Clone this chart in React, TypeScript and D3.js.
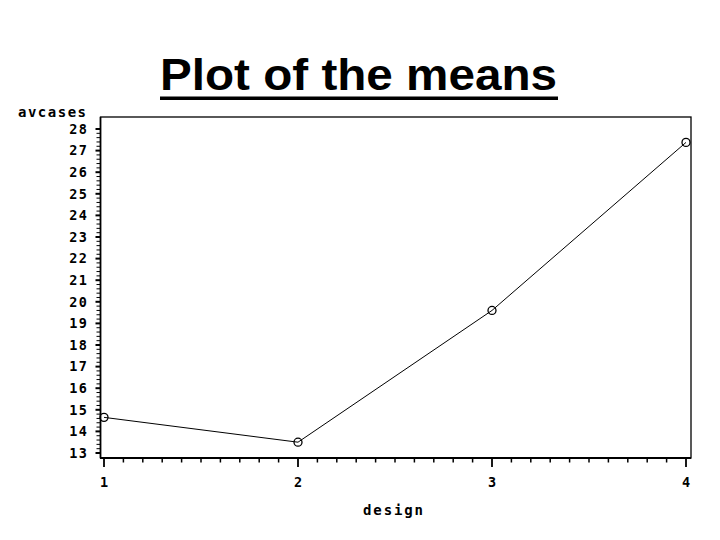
import React from "react";
import * as d3 from "d3";

// design levels and mean of avcases
const designs = [1, 2, 3, 4];
const avcases = [14.65, 13.5, 19.6, 27.38];
const yTickLabels = [13, 14, 15, 16, 17, 18, 19, 20, 21, 22, 23, 24, 25, 26, 27, 28];
const xTickLabels = [1, 2, 3, 4];

const W = 720;
const H = 540;
// frame of the plot
const frame = { left: 100.5, right: 691, top: 117, bottom: 458 };

const monoFont = "'DejaVu Sans Mono', monospace";

const App = () => {
  const x = d3.scaleLinear().domain([1, 4]).range([104, 686]);
  const y = d3.scaleLinear().domain([13, 28]).range([453, 129]);

  const line = d3
    .line<number>()
    .x((_, i) => x(designs[i]))
    .y((d) => y(d));

  // minor ticks: 0.1 on x, 0.2 on y
  const xMinor = d3.range(10, 41).map((v) => v / 10);
  const yMinor = d3.range(65, 141).map((v) => v / 5);

  return (
    <svg
      width={W}
      height={H}
      style={{ position: "absolute", left: 0, top: 0, background: "#fff" }}
    >
      <rect x={0} y={0} width={W} height={H} fill="#fff" />

      {/* title */}
      <text
        x={160}
        y={90}
        fontFamily="'Liberation Sans', Arial, sans-serif"
        fontWeight="bold"
        fontSize={44.5}
        textLength={397}
        lengthAdjust="spacingAndGlyphs"
        fill="#000"
      >
        Plot of the means
      </text>
      <rect x={160} y={96.5} width={398} height={3.5} fill="#000" />

      {/* frame */}
      <rect
        x={frame.left}
        y={frame.top}
        width={frame.right - frame.left}
        height={frame.bottom - frame.top}
        fill="none"
        stroke="#000"
        strokeWidth={1.3}
      />
      <line x1={frame.left - 0.5} x2={frame.right} y1={frame.bottom} y2={frame.bottom} stroke="#000" strokeWidth={2} />
      <line x1={frame.left} x2={frame.left} y1={frame.top} y2={frame.bottom} stroke="#000" strokeWidth={1.6} />

      {/* y ticks */}
      {yMinor.map((v) => {
        const major = Math.abs(v - Math.round(v)) < 1e-6;
        return (
          <line
            key={"ym" + v}
            x1={frame.left - (major ? 5 : 4)}
            x2={frame.left}
            y1={y(v)}
            y2={y(v)}
            stroke="#000"
            strokeWidth={major ? 2 : 1}
          />
        );
      })}
      {yTickLabels.map((v) => (
        <text
          key={"yl" + v}
          x={88.5}
          y={y(v)}
          dy="0.36em"
          textAnchor="end"
          fontFamily={monoFont}
          fontWeight="bold"
          fontSize={13.5}
          letterSpacing={1.5}
          fill="#000"
        >
          {v}
        </text>
      ))}

      {/* x ticks */}
      {xMinor.map((v) => {
        const major = Math.abs(v - Math.round(v)) < 1e-6;
        return (
          <line
            key={"xm" + v}
            x1={x(v)}
            x2={x(v)}
            y1={frame.bottom}
            y2={frame.bottom + (major ? 9 : 4.5)}
            stroke="#000"
            strokeWidth={major ? 1.8 : 1.5}
          />
        );
      })}
      {xTickLabels.map((v) => (
        <text
          key={"xl" + v}
          x={x(v) + 0.8}
          y={486.5}
          textAnchor="middle"
          fontFamily={monoFont}
          fontWeight="bold"
          fontSize={13.5}
          letterSpacing={1.5}
          fill="#000"
        >
          {v}
        </text>
      ))}

      {/* axis titles */}
      <text
        x={18}
        y={117}
        fontFamily={monoFont}
        fontWeight="bold"
        fontSize={14}
        textLength={68}
        lengthAdjust="spacing"
        fill="#000"
      >
        avcases
      </text>
      <text
        x={363}
        y={515}
        fontFamily={monoFont}
        fontWeight="bold"
        fontSize={14}
        textLength={60}
        lengthAdjust="spacing"
        fill="#000"
      >
        design
      </text>

      {/* data */}
      <path d={line(avcases) || ""} fill="none" stroke="#000" strokeWidth={1} />
      {avcases.map((v, i) => (
        <circle
          key={"pt" + i}
          cx={x(designs[i])}
          cy={y(v)}
          r={4}
          fill="none"
          stroke="#000"
          strokeWidth={1.3}
        />
      ))}
    </svg>
  );
};

export default App;
